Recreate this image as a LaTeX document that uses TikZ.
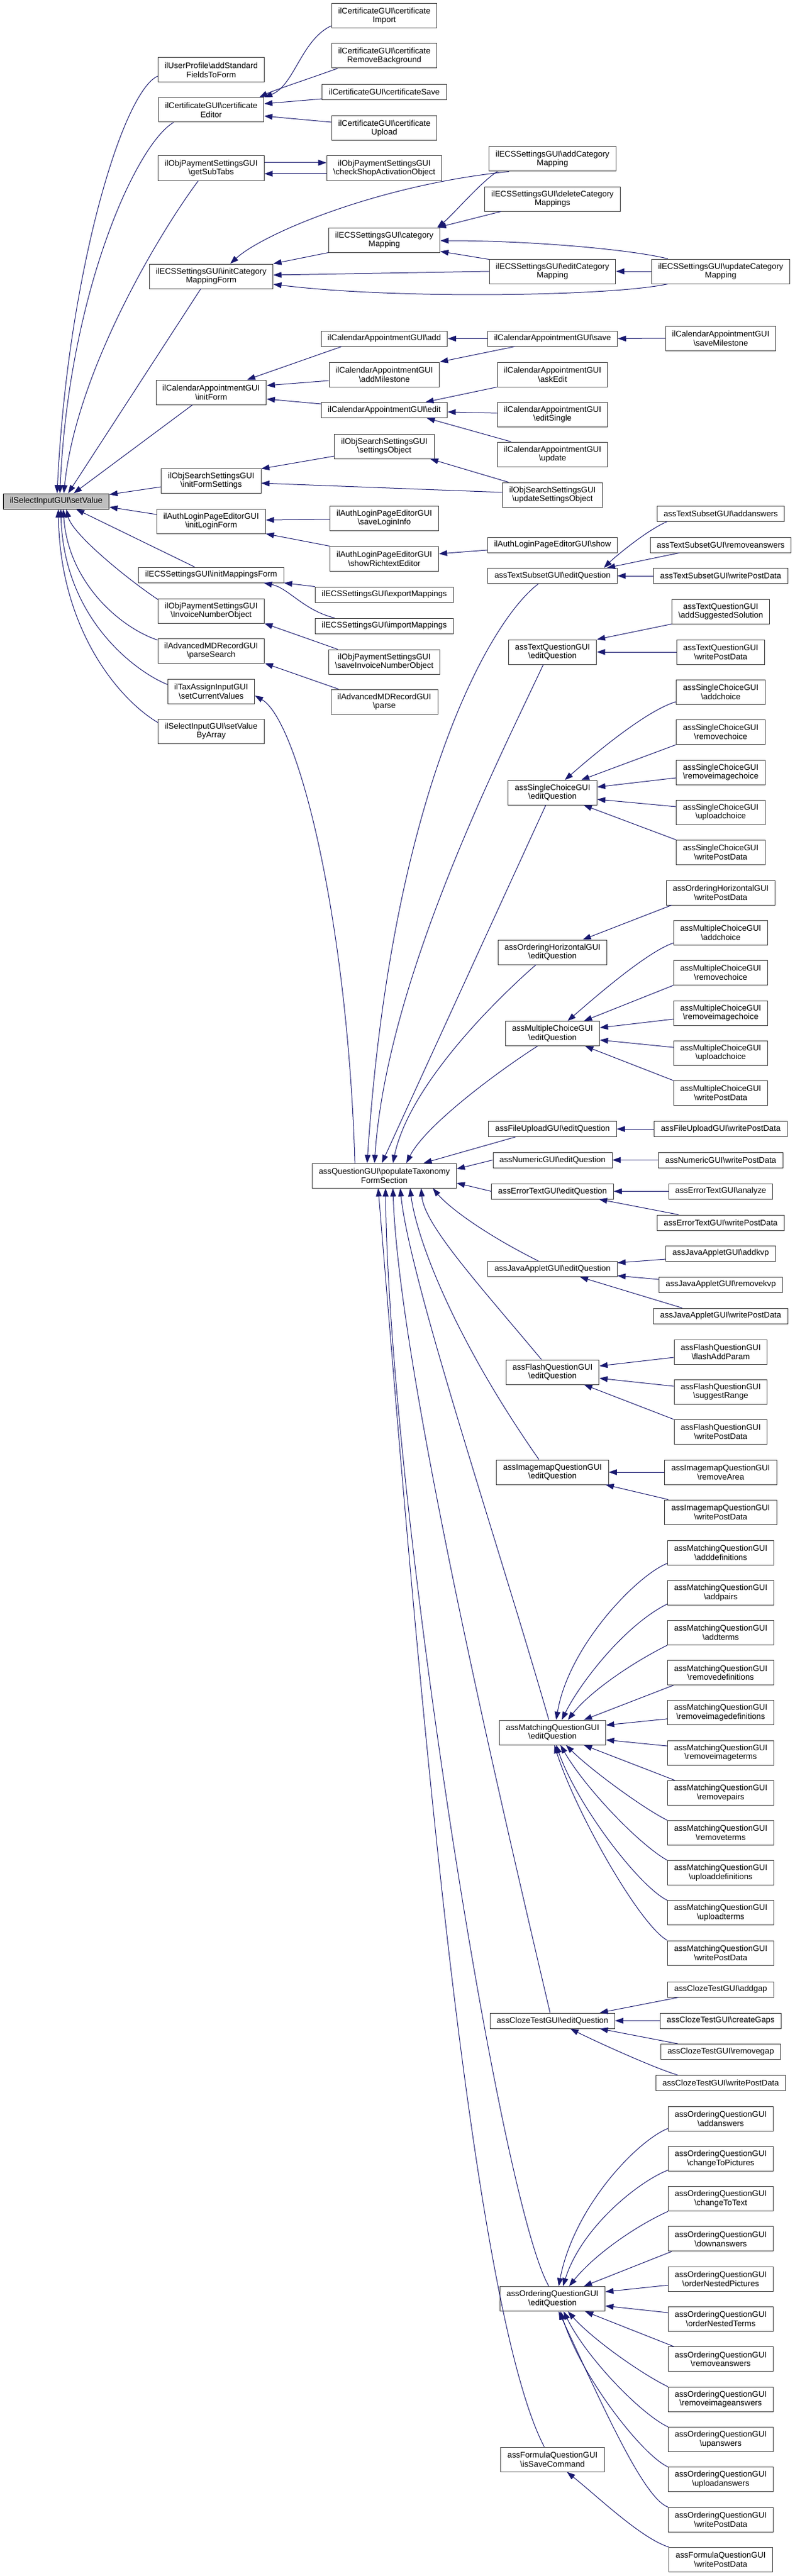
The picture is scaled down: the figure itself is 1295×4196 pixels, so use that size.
\documentclass[tikz,border=0pt]{standalone}
\usepackage{fontspec}
\setmainfont{Liberation Sans}
\usetikzlibrary{arrows.meta, calc}
\definecolor{edgecolor}{RGB}{25, 25, 112}
\definecolor{boxborder}{RGB}{60, 60, 60}
\definecolor{rootcolor}{RGB}{191, 191, 191}
\newcommand{\bks}{\textbackslash}

\begin{document}
\begin{tikzpicture}[
    x=0.75pt, y=0.75pt,
    fnbox/.style={
        rectangle,
        draw=boxborder,
        fill=white,
        line width=0.75pt,
        align=center,
        inner xsep=8pt,
        inner ysep=0pt,
        minimum height=18.75pt,
        font=\fontsize{10}{11}\selectfont
    },
    fnboxtwo/.style={
        fnbox,
        minimum height=30pt
    },
    rootbox/.style={
        fnbox,
        draw=black,
        fill=rootcolor
    },
    callarrow/.style={
        line width=0.75pt,
        draw=edgecolor,
        -{Triangle[length=10pt, width=7pt]}
    }
]

% Page frame
\path[fill=white] (0,0) rectangle (1295,-4196);

% The function itself
\node[rootbox] (sv) at (91.5,-816.5) {ilSelectInputGUI\bks setValue};

% Direct callers
\node[fnboxtwo] (up) at (344,-114) {ilUserProfile\bks addStandard\\FieldsToForm};
\node[fnboxtwo] (ce) at (344,-179) {ilCertificateGUI\bks certificate\\Editor};
\node[fnboxtwo] (gst) at (344,-274) {ilObjPaymentSettingsGUI\\\bks getSubTabs};
\node[fnboxtwo] (icm) at (344,-450) {ilECSSettingsGUI\bks initCategory\\MappingForm};
\node[fnboxtwo] (cif) at (344,-639) {ilCalendarAppointmentGUI\\\bks initForm};
\node[fnboxtwo] (ifs) at (344,-783) {ilObjSearchSettingsGUI\\\bks initFormSettings};
\node[fnboxtwo] (ilf) at (344,-849) {ilAuthLoginPageEditorGUI\\\bks initLoginForm};
\node[fnbox] (imf) at (344,-936.5) {ilECSSettingsGUI\bks initMappingsForm};
\node[fnboxtwo] (ino) at (344,-995) {ilObjPaymentSettingsGUI\\\bks InvoiceNumberObject};
\node[fnboxtwo] (ps) at (344,-1060) {ilAdvancedMDRecordGUI\\\bks parseSearch};
\node[fnboxtwo] (scv) at (344,-1126) {ilTaxAssignInputGUI\\\bks setCurrentValues};
\node[fnboxtwo] (svba) at (344,-1191) {ilSelectInputGUI\bks setValue\\ByArray};

% Second level
\node[fnboxtwo] (cimp) at (626,-26) {ilCertificateGUI\bks certificate\\Import};
\node[fnboxtwo] (crb) at (626,-91) {ilCertificateGUI\bks certificate\\RemoveBackground};
\node[fnbox] (csave) at (626,-150) {ilCertificateGUI\bks certificateSave};
\node[fnboxtwo] (cupl) at (626,-209) {ilCertificateGUI\bks certificate\\Upload};
\node[fnboxtwo] (csa) at (626,-274) {ilObjPaymentSettingsGUI\\\bks checkShopActivationObject};
\node[fnboxtwo] (cmap) at (626,-391) {ilECSSettingsGUI\bks category\\Mapping};
\node[fnbox] (cadd) at (626,-551.5) {ilCalendarAppointmentGUI\bks add};
\node[fnboxtwo] (cam) at (626,-610) {ilCalendarAppointmentGUI\\\bks addMilestone};
\node[fnbox] (cedit) at (626,-668) {ilCalendarAppointmentGUI\bks edit};
\node[fnboxtwo] (sobj) at (626,-727) {ilObjSearchSettingsGUI\\\bks settingsObject};
\node[fnboxtwo] (sli) at (626,-844) {ilAuthLoginPageEditorGUI\\\bks saveLoginInfo};
\node[fnboxtwo] (sre) at (626,-910) {ilAuthLoginPageEditorGUI\\\bks showRichtextEditor};
\node[fnbox] (exm) at (626,-968.5) {ilECSSettingsGUI\bks exportMappings};
\node[fnbox] (imm) at (626,-1019.5) {ilECSSettingsGUI\bks importMappings};
\node[fnboxtwo] (sino) at (626,-1078) {ilObjPaymentSettingsGUI\\\bks saveInvoiceNumberObject};
\node[fnboxtwo] (parse) at (626,-1143) {ilAdvancedMDRecordGUI\\\bks parse};
\node[fnboxtwo] (ptf) at (626,-1915) {assQuestionGUI\bks populateTaxonomy\\FormSection};

% Third level
\node[fnboxtwo] (acm) at (900,-259) {ilECSSettingsGUI\bks addCategory\\Mapping};
\node[fnboxtwo] (dcm) at (900,-324) {ilECSSettingsGUI\bks deleteCategory\\Mappings};
\node[fnboxtwo] (ecm) at (900,-442) {ilECSSettingsGUI\bks editCategory\\Mapping};
\node[fnbox] (csv) at (900,-551.5) {ilCalendarAppointmentGUI\bks save};
\node[fnboxtwo] (ask) at (900,-610) {ilCalendarAppointmentGUI\\\bks askEdit};
\node[fnboxtwo] (esg) at (900,-675) {ilCalendarAppointmentGUI\\\bks editSingle};
\node[fnboxtwo] (cupd) at (900,-740) {ilCalendarAppointmentGUI\\\bks update};
\node[fnboxtwo] (uso) at (900,-806) {ilObjSearchSettingsGUI\\\bks updateSettingsObject};
\node[fnbox] (shw) at (900,-887.5) {ilAuthLoginPageEditorGUI\bks show};
\node[fnbox] (tseq) at (900,-938) {assTextSubsetGUI\bks editQuestion};
\node[fnboxtwo] (tqeq) at (900,-1062) {assTextQuestionGUI\\\bks editQuestion};
\node[fnboxtwo] (sceq) at (900,-1291) {assSingleChoiceGUI\\\bks editQuestion};
\node[fnboxtwo] (oheq) at (900,-1551) {assOrderingHorizontalGUI\\\bks editQuestion};
\node[fnboxtwo] (mceq) at (900,-1683.5) {assMultipleChoiceGUI\\\bks editQuestion};
\node[fnbox] (fueq) at (900,-1839) {assFileUploadGUI\bks editQuestion};
\node[fnbox] (nueq) at (900,-1889.5) {assNumericGUI\bks editQuestion};
\node[fnbox] (eteq) at (900,-1940.5) {assErrorTextGUI\bks editQuestion};
\node[fnbox] (jaeq) at (900,-2067) {assJavaAppletGUI\bks editQuestion};
\node[fnboxtwo] (fleq) at (900,-2235) {assFlashQuestionGUI\\\bks editQuestion};
\node[fnboxtwo] (imeq) at (900,-2398) {assImagemapQuestionGUI\\\bks editQuestion};
\node[fnboxtwo] (mteq) at (900,-2822) {assMatchingQuestionGUI\\\bks editQuestion};
\node[fnbox] (cteq) at (900,-3291.5) {assClozeTestGUI\bks editQuestion};
\node[fnboxtwo] (oqeq) at (900,-3744.5) {assOrderingQuestionGUI\\\bks editQuestion};
\node[fnboxtwo] (fqsc) at (900,-4006) {assFormulaQuestionGUI\\\bks isSaveCommand};

% Fourth level
\node[fnboxtwo] (ucm) at (1174,-442) {ilECSSettingsGUI\bks updateCategory\\Mapping};
\node[fnboxtwo] (smil) at (1174,-551) {ilCalendarAppointmentGUI\\\bks saveMilestone};
\node[fnbox] (tsaa) at (1174,-836.5) {assTextSubsetGUI\bks addanswers};
\node[fnbox] (tsra) at (1174,-887.5) {assTextSubsetGUI\bks removeanswers};
\node[fnbox] (tswp) at (1174,-938) {assTextSubsetGUI\bks writePostData};
\node[fnboxtwo] (tqas) at (1174,-996) {assTextQuestionGUI\\\bks addSuggestedSolution};
\node[fnboxtwo] (tqwp) at (1174,-1062) {assTextQuestionGUI\\\bks writePostData};
\node[fnboxtwo] (scac) at (1174,-1127) {assSingleChoiceGUI\\\bks addchoice};
\node[fnboxtwo] (scrc) at (1174,-1192.5) {assSingleChoiceGUI\\\bks removechoice};
\node[fnboxtwo] (scri) at (1174,-1258) {assSingleChoiceGUI\\\bks removeimagechoice};
\node[fnboxtwo] (scuc) at (1174,-1323) {assSingleChoiceGUI\\\bks uploadchoice};
\node[fnboxtwo] (scwp) at (1174,-1388.5) {assSingleChoiceGUI\\\bks writePostData};
\node[fnboxtwo] (ohwp) at (1174,-1454) {assOrderingHorizontalGUI\\\bks writePostData};
\node[fnboxtwo] (mcac) at (1174,-1519) {assMultipleChoiceGUI\\\bks addchoice};
\node[fnboxtwo] (mcrc) at (1174,-1584.5) {assMultipleChoiceGUI\\\bks removechoice};
\node[fnboxtwo] (mcri) at (1174,-1650) {assMultipleChoiceGUI\\\bks removeimagechoice};
\node[fnboxtwo] (mcuc) at (1174,-1715) {assMultipleChoiceGUI\\\bks uploadchoice};
\node[fnboxtwo] (mcwp) at (1174,-1780.5) {assMultipleChoiceGUI\\\bks writePostData};
\node[fnbox] (fuwp) at (1174,-1839) {assFileUploadGUI\bks writePostData};
\node[fnbox] (nuwp) at (1174,-1889.5) {assNumericGUI\bks writePostData};
\node[fnbox] (etan) at (1174,-1940.5) {assErrorTextGUI\bks analyze};
\node[fnbox] (etwp) at (1174,-1991.5) {assErrorTextGUI\bks writePostData};
\node[fnbox] (jakv) at (1174,-2041.5) {assJavaAppletGUI\bks addkvp};
\node[fnbox] (jarm) at (1174,-2092.5) {assJavaAppletGUI\bks removekvp};
\node[fnbox] (jawp) at (1174,-2143.5) {assJavaAppletGUI\bks writePostData};
\node[fnboxtwo] (flap) at (1174,-2202) {assFlashQuestionGUI\\\bks flashAddParam};
\node[fnboxtwo] (flsr) at (1174,-2267) {assFlashQuestionGUI\\\bks suggestRange};
\node[fnboxtwo] (flwp) at (1174,-2332.5) {assFlashQuestionGUI\\\bks writePostData};
\node[fnboxtwo] (imra) at (1174,-2398) {assImagemapQuestionGUI\\\bks removeArea};
\node[fnboxtwo] (imwp) at (1174,-2463) {assImagemapQuestionGUI\\\bks writePostData};
\node[fnboxtwo] (mtad) at (1174,-2529) {assMatchingQuestionGUI\\\bks adddefinitions};
\node[fnboxtwo] (mtap) at (1174,-2594.2) {assMatchingQuestionGUI\\\bks addpairs};
\node[fnboxtwo] (mtat) at (1174,-2659.4) {assMatchingQuestionGUI\\\bks addterms};
\node[fnboxtwo] (mtrd) at (1174,-2724.6) {assMatchingQuestionGUI\\\bks removedefinitions};
\node[fnboxtwo] (mtrid) at (1174,-2789.8) {assMatchingQuestionGUI\\\bks removeimagedefinitions};
\node[fnboxtwo] (mtrit) at (1174,-2855) {assMatchingQuestionGUI\\\bks removeimageterms};
\node[fnboxtwo] (mtrp) at (1174,-2920.2) {assMatchingQuestionGUI\\\bks removepairs};
\node[fnboxtwo] (mtrt) at (1174,-2985.4) {assMatchingQuestionGUI\\\bks removeterms};
\node[fnboxtwo] (mtud) at (1174,-3050.6) {assMatchingQuestionGUI\\\bks uploaddefinitions};
\node[fnboxtwo] (mtut) at (1174,-3115.8) {assMatchingQuestionGUI\\\bks uploadterms};
\node[fnboxtwo] (mtwp) at (1174,-3181) {assMatchingQuestionGUI\\\bks writePostData};
\node[fnbox] (ctag) at (1174,-3240.5) {assClozeTestGUI\bks addgap};
\node[fnbox] (ctcg) at (1174,-3291.5) {assClozeTestGUI\bks createGaps};
\node[fnbox] (ctrg) at (1174,-3342) {assClozeTestGUI\bks removegap};
\node[fnbox] (ctwp) at (1174,-3393) {assClozeTestGUI\bks writePostData};
\node[fnboxtwo] (oqaa) at (1174,-3451) {assOrderingQuestionGUI\\\bks addanswers};
\node[fnboxtwo] (oqcp) at (1174,-3516.3) {assOrderingQuestionGUI\\\bks changeToPictures};
\node[fnboxtwo] (oqct) at (1174,-3581.6) {assOrderingQuestionGUI\\\bks changeToText};
\node[fnboxtwo] (oqda) at (1174,-3646.9) {assOrderingQuestionGUI\\\bks downanswers};
\node[fnboxtwo] (oqonp) at (1174,-3712.2) {assOrderingQuestionGUI\\\bks orderNestedPictures};
\node[fnboxtwo] (oqont) at (1174,-3777.5) {assOrderingQuestionGUI\\\bks orderNestedTerms};
\node[fnboxtwo] (oqra) at (1174,-3842.8) {assOrderingQuestionGUI\\\bks removeanswers};
\node[fnboxtwo] (oqria) at (1174,-3908.1) {assOrderingQuestionGUI\\\bks removeimageanswers};
\node[fnboxtwo] (oqua) at (1174,-3973.4) {assOrderingQuestionGUI\\\bks upanswers};
\node[fnboxtwo] (oqula) at (1174,-4038.7) {assOrderingQuestionGUI\\\bks uploadanswers};
\node[fnboxtwo] (oqwp) at (1174,-4104) {assOrderingQuestionGUI\\\bks writePostData};
\node[fnboxtwo] (fqwp) at (1174,-4169.3) {assFormulaQuestionGUI\\\bks writePostData};

% Calls into setValue
\draw[callarrow] ($(up.west)+(0,-10)$) .. controls +(-58,-26) and +(17,354) .. ($(sv.north)+(1.5,0)$);
\draw[callarrow] ($(ce.south west)+(25,0)$) .. controls +(-60,-35) and +(15,330) .. ($(sv.north)+(6,0)$);
\draw[callarrow] ($(gst.south)+(-21,0)$) .. controls +(-60,-80) and +(20,200) .. ($(sv.north)+(12.5,0)$);
\draw[callarrow] ($(icm.south)+(-17,0)$) -- ($(sv.north)+(19.5,0)$);
\draw[callarrow] ($(cif.south west)+(60,0)$) -- ($(sv.north)+(28.5,0)$);
\draw[callarrow] ($(ifs.west)+(0,-10)$) -- ($(sv.north east)+(0,-2)$);
\draw[callarrow] ($(ilf.west)+(0,11)$) -- ($(sv.east)+(0,-9.5)$);
\draw[callarrow] ($(imf.north)+(-27,0)$) -- ($(sv.south)+(32.5,0)$);
\draw[callarrow] ($(ino.north west)+(0,-2)$) .. controls +(-48,32) and +(10,-41) .. ($(sv.south)+(16.5,0)$);
\draw[callarrow] ($(ps.north west)+(0,-3)$) .. controls +(-60,20) and +(8,-120) .. ($(sv.south)+(11.5,0)$);
\draw[callarrow] ($(scv.west)+(0,11)$) .. controls +(-50,20) and +(5,-180) .. ($(sv.south)+(7.5,0)$);
\draw[callarrow] ($(svba.west)+(0,14)$) .. controls +(-60,35) and +(3,-200) .. ($(sv.south)+(3.5,0)$);

% Certificate editor
\draw[callarrow] ($(cimp.west)+(0,-16)$) .. controls +(-49,-23) and +(49,19) .. (ce.north east);
\draw[callarrow] ($(crb.south west)+(10,0)$) .. controls +(-50,-18) and +(25,12) .. ($(ce.north east)+(-8,0)$);
\draw[callarrow] ($(csave.west)+(0,-11)$) -- ($(ce.east)+(0,10)$);
\draw[callarrow] ($(cupl.west)+(0,10)$) -- ($(ce.east)+(0,-10)$);

% Payment sub tabs
\draw[callarrow] ($(gst.east)+(0,9)$) -- ($(csa.west)+(0,9)$);
\draw[callarrow] ($(csa.west)+(0,-9)$) -- ($(gst.east)+(0,-9)$);

% Category mapping
\draw[callarrow] ($(acm.south west)+(33,0)$) .. controls +(-210,-21) and +(55,50) .. ($(icm.north)+(31,0)$);
\draw[callarrow] (cmap.south west) -- (icm.north east);
\draw[callarrow] (ecm.west) -- ($(icm.east)+(0,2)$);
\draw[callarrow] ($(ucm.south west)+(27,0)$) .. controls +(-90,-20) and +(200,-25) .. ($(icm.east)+(0,-13)$);
\draw[callarrow] ($(acm.south west)+(14,0)$) .. controls +(-25,-15) and +(25,20) .. ($(cmap.north east)+(-5,0)$);
\draw[callarrow] ($(dcm.south west)+(27,0)$) -- ($(cmap.north east)+(-4,0)$);
\draw[callarrow] ($(ucm.north west)+(27,0)$) .. controls +(-60,15) and +(150,0) .. ($(cmap.east)+(0,-1)$);
\draw[callarrow] ($(ecm.north west)+(0,-1)$) -- ($(cmap.south east)+(0,2)$);
\draw[callarrow] (ucm.west) -- (ecm.east);

% Calendar appointments
\draw[callarrow] ($(cadd.south west)+(34,0)$) -- ($(cif.north east)+(-32,0)$);
\draw[callarrow] ($(cam.west)+(0,-10)$) -- ($(cif.east)+(0,11)$);
\draw[callarrow] ($(cedit.west)+(0,10)$) -- ($(cif.east)+(0,-11)$);
\draw[callarrow] (csv.west) -- (cadd.east);
\draw[callarrow] ($(csv.south west)+(45,0)$) -- (cam.north east);
\draw[callarrow] (smil.west) -- (csv.east);
\draw[callarrow] (ask.south west) -- ($(cedit.north east)+(-36,0)$);
\draw[callarrow] ($(esg.west)+(0,2)$) -- ($(cedit.east)+(0,-3)$);
\draw[callarrow] ($(cupd.north west)+(23,0)$) -- ($(cedit.south east)+(-34,0)$);

% Search settings
\draw[callarrow] ($(sobj.west)+(0,-16)$) -- ($(ifs.north east)+(0,-1)$);
\draw[callarrow] ($(uso.west)+(0,4)$) -- ($(ifs.east)+(0,-4)$);
\draw[callarrow] ($(uso.north west)+(10,0)$) -- ($(sobj.south east)+(-7,0)$);

% Login page editor
\draw[callarrow] ($(sli.west)+(0,-2)$) -- ($(ilf.east)+(0,2)$);
\draw[callarrow] (sre.north west) -- (ilf.south east);
\draw[callarrow] ($(shw.west)+(0,-8.5)$) -- ($(sre.east)+(0,8)$);

% Mappings, invoice, records, taxonomy
\draw[callarrow] (exm.north west) -- (imf.south east);
\draw[callarrow] ($(imm.north west)+(32,0)$) .. controls +(-50,12) and +(40,-8) .. ($(imf.south east)+(-33,0)$);
\draw[callarrow] ($(sino.north west)+(15,0)$) -- (ino.south east);
\draw[callarrow] ($(parse.north west)+(13,0)$) -- (ps.south east);
\draw[callarrow] ($(ptf.north west)+(70,0)$) .. controls +(-12,400) and +(70,-40) .. ($(scv.east)+(0,-7)$);

% Question editors into populateTaxonomyFormSection
\draw[callarrow] ($(tseq.south)+(-23,0)$) .. controls +(-80,-60) and +(40,600) .. ($(ptf.north)+(-28,0)$);
\draw[callarrow] ($(tqeq.south)+(-15,0)$) .. controls +(-70,-150) and +(20,300) .. ($(ptf.north)+(-16,0)$);
\draw[callarrow] ($(sceq.south)+(-11,0)$) -- ($(ptf.north)+(-4,0)$);
\draw[callarrow] ($(oheq.south)+(-27,0)$) .. controls +(-80,-70) and +(25,120) .. ($(ptf.north)+(14,0)$);
\draw[callarrow] ($(mceq.south)+(-24.5,0)$) .. controls +(-70,-45) and +(30,60) .. ($(ptf.north)+(36,0)$);
\draw[callarrow] ($(fueq.south west)+(44,0)$) -- ($(ptf.north)+(64,0)$);
\draw[callarrow] (nueq.west) -- ($(ptf.east)+(0,11)$);
\draw[callarrow] (eteq.west) -- ($(ptf.east)+(0,-12)$);
\draw[callarrow] ($(jaeq.north)+(-23,0)$) .. controls +(-90,45) and +(25,-30) .. ($(ptf.south)+(79,0)$);
\draw[callarrow] ($(fleq.north)+(-18,0)$) .. controls +(-100,120) and +(5,-60) .. ($(ptf.south)+(60,0)$);
\draw[callarrow] ($(imeq.north)+(-22,0)$) .. controls +(-140,200) and +(10,-80) .. ($(ptf.south)+(42,0)$);
\draw[callarrow] ($(mteq.north)+(-6,0)$) .. controls +(-80,280) and +(15,-150) .. ($(ptf.south)+(26,0)$);
\draw[callarrow] ($(cteq.north)+(-4,0)$) .. controls +(-70,300) and +(10,-300) .. ($(ptf.south)+(14,0)$);
\draw[callarrow] ($(oqeq.north)+(-6,0)$) .. controls +(-80,140) and +(5,-500) .. ($(ptf.south)+(2,0)$);
\draw[callarrow] ($(fqsc.north)+(-13.5,0)$) .. controls +(-130,250) and +(50,-600) .. ($(ptf.south)+(-10,0)$);

% Text subset and text question
\draw[callarrow] ($(tsaa.south west)+(17,0)$) .. controls +(-35,-15) and +(15,15) .. ($(tseq.north east)+(-22,0)$);
\draw[callarrow] ($(tsra.south west)+(48,0)$) -- ($(tseq.north east)+(-17,0)$);
\draw[callarrow] (tswp.west) -- (tseq.east);
\draw[callarrow] (tqas.south west) -- (tqeq.north east);
\draw[callarrow] (tqwp.west) -- (tqeq.east);

% Single choice
\draw[callarrow] ($(scac.west)+(0,-16)$) .. controls +(-51,-15) and +(40,35) .. ($(sceq.north)+(20,0)$);
\draw[callarrow] (scrc.south west) -- ($(sceq.north east)+(-26,0)$);
\draw[callarrow] ($(scri.west)+(0,-9)$) -- ($(sceq.east)+(0,9)$);
\draw[callarrow] ($(scuc.west)+(0,9)$) -- ($(sceq.east)+(0,-11)$);
\draw[callarrow] (scwp.north west) -- ($(sceq.south east)+(-22,0)$);

% Ordering horizontal and multiple choice
\draw[callarrow] ($(ohwp.south west)+(9,0)$) -- ($(oheq.north east)+(-40,0)$);
\draw[callarrow] ($(mcac.west)+(0,-17)$) .. controls +(-45,-15) and +(35,30) .. ($(mceq.north)+(24.5,0)$);
\draw[callarrow] (mcrc.south west) -- ($(mceq.north east)+(-26,0)$);
\draw[callarrow] ($(mcri.west)+(0,-10)$) -- ($(mceq.east)+(0,9.5)$);
\draw[callarrow] ($(mcuc.west)+(0,9)$) -- ($(mceq.east)+(0,-10.5)$);
\draw[callarrow] (mcwp.north west) -- ($(mceq.south east)+(-24,0)$);

% File upload, numeric, error text, java applet
\draw[callarrow] (fuwp.west) -- (fueq.east);
\draw[callarrow] (nuwp.west) -- (nueq.east);
\draw[callarrow] (etan.west) -- (eteq.east);
\draw[callarrow] ($(etwp.north west)+(35,0)$) -- ($(eteq.south east)+(-24,0)$);
\draw[callarrow] ($(jakv.west)+(0,-9.5)$) -- ($(jaeq.east)+(0,10)$);
\draw[callarrow] ($(jarm.west)+(0,8.5)$) -- ($(jaeq.east)+(0,-11)$);
\draw[callarrow] ($(jawp.north west)+(47,0)$) -- ($(jaeq.south east)+(-61,0)$);

% Flash and imagemap
\draw[callarrow] ($(flap.west)+(0,-9)$) -- ($(fleq.east)+(0,10)$);
\draw[callarrow] ($(flsr.west)+(0,9)$) -- ($(fleq.east)+(0,-10)$);
\draw[callarrow] (flwp.north west) -- ($(fleq.south east)+(-25,0)$);
\draw[callarrow] (imra.west) -- (imeq.east);
\draw[callarrow] ($(imwp.north west)+(6,0)$) -- ($(imeq.south east)+(-5,0)$);

% Matching question
\draw[callarrow] ($(mtad.south west)+(0,3)$) .. controls +(-50,-20) and +(20,120) .. ($(mteq.north)+(6,0)$);
\draw[callarrow] ($(mtap.south west)+(0,2)$) .. controls +(-70,-35) and +(30,60) .. ($(mteq.north)+(15,0)$);
\draw[callarrow] (mtat.south west) .. controls +(-60,-30) and +(35,45) .. ($(mteq.north)+(25,0)$);
\draw[callarrow] ($(mtrd.south west)+(10,0)$) -- ($(mteq.north)+(51,0)$);
\draw[callarrow] ($(mtrid.west)+(0,-10)$) -- ($(mteq.east)+(0,12)$);
\draw[callarrow] ($(mtrit.west)+(0,11)$) -- ($(mteq.east)+(0,-12)$);
\draw[callarrow] ($(mtrp.north west)+(12,0)$) -- ($(mteq.south)+(51,0)$);
\draw[callarrow] (mtrt.north west) .. controls +(-40,20) and +(40,-40) .. ($(mteq.south)+(22,0)$);
\draw[callarrow] (mtud.north west) .. controls +(-45,25) and +(40,-70) .. ($(mteq.south)+(13,0)$);
\draw[callarrow] (mtut.north west) .. controls +(-45,22) and +(35,-100) .. ($(mteq.south)+(6,0)$);
\draw[callarrow] (mtwp.north west) .. controls +(-45,25) and +(35,-110) .. ($(mteq.south)+(3,0)$);

% Cloze test
\draw[callarrow] ($(ctag.south west)+(18,0)$) -- ($(cteq.north east)+(-25,0)$);
\draw[callarrow] (ctcg.west) -- (cteq.east);
\draw[callarrow] ($(ctrg.north west)+(28,0)$) -- ($(cteq.south east)+(-25,0)$);
\draw[callarrow] ($(ctwp.north west)+(36,0)$) .. controls +(-40,12) and +(40,-20) .. ($(cteq.south)+(29,0)$);

% Ordering question
\draw[callarrow] ($(oqaa.west)+(0,-16)$) .. controls +(-50,-20) and +(25,130) .. ($(oqeq.north)+(10,0)$);
\draw[callarrow] ($(oqcp.south west)+(0,2)$) .. controls +(-50,-20) and +(30,95) .. ($(oqeq.north)+(17,0)$);
\draw[callarrow] (oqct.south west) .. controls +(-55,-25) and +(40,50) .. ($(oqeq.north)+(27,0)$);
\draw[callarrow] ($(oqda.south west)+(6,0)$) -- ($(oqeq.north)+(51,0)$);
\draw[callarrow] ($(oqonp.west)+(0,-10)$) -- ($(oqeq.east)+(0,11.5)$);
\draw[callarrow] ($(oqont.west)+(0,10.5)$) -- ($(oqeq.east)+(0,-11.5)$);
\draw[callarrow] ($(oqra.north west)+(10,0)$) -- ($(oqeq.south)+(53,0)$);
\draw[callarrow] (oqria.north west) .. controls +(-45,22) and +(40,-45) .. ($(oqeq.south)+(25,0)$);
\draw[callarrow] (oqua.north west) .. controls +(-40,18) and +(40,-80) .. ($(oqeq.south)+(18,0)$);
\draw[callarrow] (oqula.north west) .. controls +(-40,18) and +(35,-110) .. ($(oqeq.south)+(13,0)$);
\draw[callarrow] (oqwp.north west) .. controls +(-40,14) and +(70,-150) .. ($(oqeq.south)+(10,0)$);

% Formula question
\draw[callarrow] (fqwp.north west) .. controls +(-45,14) and +(50,-40) .. ($(fqsc.south)+(23.5,0)$);

\end{tikzpicture}
\end{document}
